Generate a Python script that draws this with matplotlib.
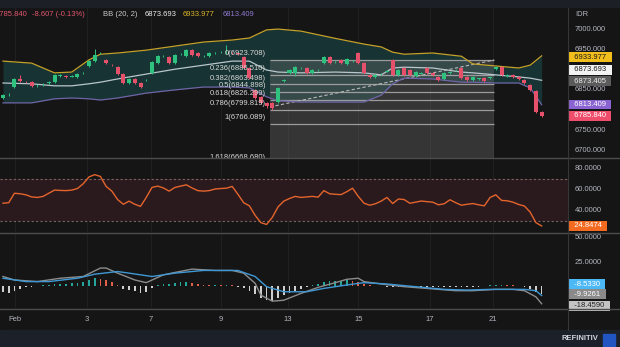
import matplotlib
matplotlib.use("Agg")
import matplotlib.pyplot as plt
import matplotlib.transforms as mtransforms
from matplotlib.patches import Rectangle
from matplotlib.lines import Line2D
import numpy as np

plt.rcParams["font.family"] = ["Liberation Sans", "DejaVu Sans"]

W, H = 620, 347

# price bars (IDR), one per bar
opens = [6830, 6837, 6857, 6877, 6870, 6869, 6861, 6862, 6866, 6869,
         6884, 6884, 6883, 6882, 6891, 6909, 6921, 6940, 6924, 6912,
         6906, 6889, 6867, 6877, 6867, 6874, 6892, 6916, 6933, 6931,
         6916, 6938, 6934, 6948, 6941, 6933, 6933, 6941, 6943, 6941,
         6941, 6940, 6931, 6904, 6850, 6833, 6818, 6818, 6820, 6872,
         6892, 6892, 6903, 6904, 6892, 6899, 6916, 6931, 6918, 6924,
         6914, 6921, 6941, 6916, 6887, 6882, 6889, 6895, 6924, 6887,
         6904, 6899, 6884, 6890, 6904, 6892, 6882, 6877, 6892, 6899,
         6904, 6882, 6874, 6877, 6879, 6880, 6901, 6906, 6884, 6887,
         6882, 6874, 6862, 6847, 6796]
highs = [6840, 6842, 6880, 6887, 6873, 6871, 6865, 6866, 6873, 6890,
         6889, 6886, 6887, 6892, 6895, 6924, 6951, 6944, 6927, 6914,
         6908, 6891, 6879, 6879, 6869, 6878, 6922, 6936, 6937, 6934,
         6939, 6941, 6951, 6950, 6943, 6936, 6944, 6944, 6946, 6961,
         6943, 6942, 6934, 6907, 6853, 6836, 6821, 6820, 6858, 6876,
         6902, 6909, 6906, 6906, 6901, 6902, 6934, 6934, 6921, 6926,
         6929, 6924, 6944, 6918, 6890, 6889, 6892, 6898, 6926, 6901,
         6906, 6901, 6896, 6893, 6906, 6894, 6884, 6894, 6896, 6902,
         6906, 6884, 6884, 6880, 6881, 6883, 6909, 6908, 6888, 6889,
         6884, 6876, 6864, 6849, 6798]
lows = [6828, 6834, 6855, 6869, 6867, 6857, 6858, 6860, 6864, 6867,
        6882, 6880, 6881, 6880, 6889, 6907, 6919, 6938, 6913, 6909,
        6886, 6864, 6865, 6865, 6854, 6872, 6890, 6914, 6931, 6913,
        6914, 6936, 6932, 6934, 6931, 6931, 6931, 6939, 6941, 6939,
        6938, 6935, 6901, 6877, 6827, 6815, 6806, 6800, 6818, 6870,
        6889, 6884, 6901, 6889, 6890, 6897, 6913, 6913, 6916, 6913,
        6911, 6919, 6913, 6889, 6879, 6880, 6887, 6893, 6884, 6884,
        6884, 6884, 6881, 6888, 6889, 6884, 6871, 6874, 6890, 6897,
        6876, 6871, 6872, 6875, 6869, 6878, 6899, 6884, 6881, 6880,
        6874, 6865, 6847, 6793, 6783]
closes = [6837, 6838, 6877, 6872, 6869, 6860, 6862, 6863, 6870, 6887,
          6887, 6882, 6884, 6889, 6892, 6921, 6936, 6941, 6916, 6911,
          6889, 6867, 6877, 6867, 6857, 6875, 6919, 6933, 6934, 6916,
          6936, 6939, 6948, 6936, 6933, 6934, 6941, 6942, 6944, 6942,
          6940, 6938, 6904, 6880, 6830, 6818, 6810, 6805, 6855, 6873,
          6899, 6906, 6904, 6892, 6899, 6900, 6931, 6916, 6919, 6916,
          6926, 6922, 6916, 6892, 6882, 6887, 6890, 6896, 6887, 6899,
          6887, 6887, 6894, 6891, 6892, 6887, 6874, 6892, 6893, 6900,
          6879, 6874, 6882, 6878, 6872, 6881, 6906, 6887, 6886, 6882,
          6877, 6868, 6850, 6794.447, 6785.840]

# Bollinger band (20, 2), read at a few bars
bb_idx = [0, 5, 9, 12, 15, 17, 20, 25, 30, 35, 40, 43, 46, 48, 52, 58, 63,
          66, 68, 70, 75, 80, 82, 86, 90, 92, 94]
bb_upper = [6921, 6916, 6892, 6894, 6924, 6938, 6941, 6948, 6958, 6968, 6973,
            6978, 6998, 7000, 6995, 6977, 6963, 6956, 6943, 6938, 6941, 6933,
            6914, 6909, 6904, 6911, 6933.977]
bb_mid = [6867, 6865, 6860, 6860, 6865, 6869, 6877, 6889, 6901, 6911, 6921,
          6921, 6899, 6894, 6892, 6894, 6892, 6887, 6904, 6906, 6904, 6894,
          6892, 6887, 6882, 6879, 6873.693]
bb_lower = [6818, 6818, 6828, 6830, 6828, 6825, 6830, 6842, 6850, 6857, 6857,
            6855, 6833, 6823, 6820, 6820, 6820, 6837, 6865, 6879, 6877, 6869,
            6869, 6867, 6867, 6855, 6813.409]

# Fibonacci retracement drawing
fib_levels = [0, 0.236, 0.382, 0.5, 0.618, 0.786, 1, 1.618]
fib_prices = [6923.708, 6886.510, 6863.498, 6844.898, 6826.299, 6799.819,
              6766.089, 6668.680]
fib_start, fib_end = 46.6, 85.7
fib_trend = [6808, 6923.708]

# RSI, one per bar
rsi = [46.5, 47, 56, 55.5, 54.5, 52.5, 52, 53, 56, 59,
       58.7, 58.5, 59, 60.5, 65, 71.5, 73.7, 72, 62.5, 58,
       50, 45.5, 48.5, 45.5, 43.5, 52, 61.5, 62.8, 61, 58,
       61.5, 62.8, 64, 61, 58.5, 58, 58.5, 60, 60.5, 60.8,
       62.5, 55, 47, 44, 35, 28, 26.3, 33, 43, 48.5,
       51, 53, 52, 52.5, 53, 52.3, 58.5, 55.5, 55, 54.7,
       57.5, 60.8, 53, 46.5, 44.6, 46, 48.5, 52, 46.2, 50.5,
       50, 46.5, 47.5, 48.6, 48, 47.5, 45, 46, 49.8, 47,
       44.6, 45.5, 46.2, 45, 44, 52, 54.5, 49.2, 48.8, 47.5,
       45.3, 43.8, 38, 28, 24.8474]

# MACD
macd_idx = [0, 2, 6, 10, 14, 17, 18, 20, 23, 25, 28, 30, 33, 37, 40, 42, 44,
            45, 47, 49, 52, 55, 58, 60, 62, 63, 66, 70, 74, 76, 79, 82, 86,
            89, 91, 93, 94]
macd_line = [9.9, 6.3, 4.6, 8.1, 9.9, 18.7, 18.7, 13.4, 6.3, 3.5, 11.6, 14.1,
             17.6, 16.2, 16.2, 13.4, 2.8, -9.5, -15.8, -14.8, -7.7, -1.4, 3.5,
             7, 8.1, 4.6, 2.1, -0.7, -2.5, -3.5, -4.9, -4.9, -3.5, -3.5, -4.9,
             -11.3, -18.459]
signal_idx = [0, 4, 8, 13, 16, 20, 22, 26, 30, 35, 41, 44, 46, 49, 53, 56, 60,
              63, 67, 72, 77, 81, 85, 91, 93, 94]
signal_line = [8.1, 4.6, 4.6, 8.1, 12.3, 15.1, 13.4, 9.9, 13.4, 16.2, 16.2,
               9.9, -0.7, -6, -6, -2.5, 1.1, 3.5, 2.1, -0.7, -3.5, -4.2, -3.5,
               -3.5, -4.9, -9.926]
hist = [-6, -7, -5, -3, -1, -1, -0.5, 1, 1, 2,
        2, 2, 3, 3, 4, 6, 8, 7, 6, 4,
        1, -3, -4, -5, -7, -6, -2, 1, 2, 2,
        3, 4, 4, 3, 2, 1.5, 1, 1, 0.8, 0.8,
        0.6, -1, -2, -5, -8, -12, -15, -16, -12, -9,
        -7, -5, -3, -1.5, 1, 2, 4, 5, 5, 5,
        6, 5, 4, 2, 1, 0.5,
        -0.5, -1, -1, -1.5, -1, -0.8, -1, -1.2, -1, -0.8,
        -1, -1.5, -1, -0.8, -1.2, -1, -0.8, -0.6, -0.5,
        0.8, 1, 1, 0.8, 0.6, 0.5, -1, -3, -6, -8.533]

tick_pos = [2.1, 14.7, 25.8, 38.0, 49.7, 62.0, 74.5, 85.5]
tick_labels = ["Feb", "3", "7", "9", "13", "15", "17", "21"]

BG = "#151515"
UP, DN = "#2fc27e", "#e5506a"
AXC = "#b2b5be"
FS = 5.5

fig = plt.figure(figsize=(W / 100, H / 100), dpi=100, facecolor=BG)


def px_axes(top, bottom):
    return fig.add_axes([0, 1 - bottom / H, 568 / W, (bottom - top) / H])


def ftxt(x, y, s, **kw):
    fig.text(x / W, 1 - y / H, s, fontsize=FS, va="center", **kw)


ax_p = px_axes(8, 158)
ax_r = px_axes(159, 232)
ax_m = px_axes(233, 308)

x = np.arange(len(closes))
for ax in (ax_p, ax_r, ax_m):
    ax.set_facecolor(BG)
    ax.set_xlim(-0.52, 98.6)
    for s in ax.spines.values():
        s.set_visible(False)
    ax.set_yticks([])
    ax.set_xticks([])
    for t in tick_pos:
        ax.axvline(t, color="#232323", lw=0.6, zorder=0)

# ---- price panel ----
ax_p.set_ylim(6682, 7052)
ax_p.fill_between(bb_idx, bb_upper, bb_lower, color="#183333", lw=0, zorder=1)
ax_p.add_patch(Rectangle((fib_start, 6600), fib_end - fib_start,
                         fib_prices[0] - 6600, facecolor="#808080",
                         alpha=0.3, lw=0, zorder=1.5))
ax_p.hlines(fib_prices, fib_start, fib_end, color="#9c9c9c", lw=0.9, zorder=2)
for lvl, p in zip(fib_levels, fib_prices):
    t = ax_p.annotate(f"{lvl:g}({p:.3f})", xy=(fib_start, p), xytext=(-3, 4.6),
                      textcoords="offset points", ha="right", va="center",
                      fontsize=FS, color="#d8d8d8", zorder=7,
                      annotation_clip=False)
    t.set_clip_path(ax_p.patch)
ax_p.plot([fib_start, fib_end], fib_trend, color="#b8b8b8", lw=0.8,
          ls=(0, (3, 2)), zorder=2.5)

ax_p.plot(bb_idx, bb_upper, color="#c4a12a", lw=0.9, zorder=3)
ax_p.plot(bb_idx, bb_mid, color="#b9c6cc", lw=0.9, zorder=3)
ax_p.plot(bb_idx, bb_lower, color="#6f64a6", lw=0.9, zorder=3)

o = np.array(opens)
c = np.array(closes)
cols = np.where(c >= o, UP, DN)
ax_p.vlines(x, lows, highs, colors=cols, lw=0.7, zorder=4)
ax_p.bar(x, np.maximum(np.abs(c - o), 1.2), bottom=np.minimum(o, c),
         width=0.7, color=cols, lw=0, zorder=5)

# ---- RSI panel ----
ax_r.set_ylim(19.1, 88.6)
ax_r.axhspan(30, 70, color="#2a1a1e", lw=0, zorder=0.5)
for lv in (30, 70):
    ax_r.axhline(lv, color="#7d6262", lw=0.8, ls=(0, (2, 2)), zorder=1)
ax_r.plot(x, rsi, color="#e4642c", lw=1.0, zorder=3)

# ---- MACD panel ----
ax_m.set_ylim(-22.9, 55.2)
hcols = []
for i, h in enumerate(hist):
    prev = hist[i - 1] if i else h
    if h < 0:
        hcols.append("#cfcfcf")
    elif h >= prev:
        hcols.append("#26a69a")
    else:
        hcols.append("#e0604a")
ax_m.bar(x, hist, width=0.3, color=hcols, lw=0, zorder=2)
ax_m.plot(macd_idx, macd_line, color="#8c8c8c", lw=1.0, zorder=3)
ax_m.plot(signal_idx, signal_line, color="#3f98d4", lw=1.0, zorder=3)
ax_m.set_xticks(tick_pos)
ax_m.set_xticklabels(tick_labels)
ax_m.tick_params(axis="x", length=0, pad=5.5, labelsize=FS, colors=AXC)

# ---- right scale labels ----
def scale_labels(ax, ticks, fmt):
    tr = mtransforms.blended_transform_factory(ax.transAxes, ax.transData)
    for v in ticks:
        ax.text(575 / 568, v, fmt.format(v), transform=tr, fontsize=FS,
                color=AXC, va="center", ha="left", zorder=8)


def value_box(ax, y, s, fc, tc):
    tr = mtransforms.blended_transform_factory(ax.transAxes, ax.transData)
    ax.text(570 / 568, y, "  " + s + "  ", transform=tr, fontsize=FS,
            color=tc, va="center", ha="left", zorder=10,
            bbox=dict(boxstyle="square,pad=0.15", fc=fc, ec="none"))


# 6800 and 6900 sit under the value boxes, so only the visible ones are drawn
scale_labels(ax_p, [6700, 6750, 6850, 6950, 7000], "{:.3f}")
value_box(ax_p, bb_upper[-1] - 3, "6933.977", "#f2be1c", "#1a1a1a")
value_box(ax_p, bb_mid[-1] + 25.5, "6873.693", "#f2f2f2", "#1a1a1a")
value_box(ax_p, 6873.405 - 1.5, "6873.405", "#5b5b5b", "#f0f0f0")
value_box(ax_p, bb_lower[-1], "6813.409", "#8a63d2", "#ffffff")
value_box(ax_p, closes[-1], "6785.840", "#ef4d6c", "#ffffff")

scale_labels(ax_r, [40, 60, 80], "{:.4f}")
value_box(ax_r, rsi[-1], "24.8474", "#f26b21", "#ffffff")

scale_labels(ax_m, [25, 50], "{:.4f}")
value_box(ax_m, hist[-1] + 10.5, "-8.5330", "#4cb8f5", "#ffffff")
value_box(ax_m, signal_line[-1] + 1.6, "-9.9261", "#8a8a8a", "#ffffff")
value_box(ax_m, macd_line[-1] - 2.3, "-18.4590", "#c4c4c4", "#222222")

# ---- frame: strips, separators, header ----
fig.patches.append(Rectangle((0, 1 - 7 / H), 1, 7 / H, transform=fig.transFigure,
                             color="#1c1f26", zorder=0))
fig.patches.append(Rectangle((0, 0), 1, 17 / H, transform=fig.transFigure,
                             color="#1c2029", zorder=0))
fig.patches.append(Rectangle((603 / W, 1 / H), 12 / W, 12 / H,
                             transform=fig.transFigure, color="#2156c2",
                             zorder=1))
for yy in (158, 232.5, 308.5):
    fig.lines.append(Line2D([0, 1], [1 - yy / H] * 2, transform=fig.transFigure,
                            color="#4d4d4d", lw=1.0))
fig.lines.append(Line2D([568 / W] * 2, [1 - 8 / H, 17 / H],
                        transform=fig.transFigure, color="#363636", lw=0.8))

ftxt(27, 15, "6785.840", color="#e0566d", ha="right")
ftxt(32, 15, "-8.607 (-0.13%)", color="#e0566d", ha="left")
ftxt(103, 15, "BB (20, 2)", color="#c8c8c8", ha="left")
ftxt(145, 15, "6873.693", color="#ececec", ha="left")
ftxt(183, 15, "6933.977", color="#d9b42a", ha="left")
ftxt(223, 15, "6813.409", color="#8f79d1", ha="left")
ftxt(575, 15, "IDR", color=AXC, ha="left")
ftxt(598, 339, "REFINITIV", color="#d0d4dc", ha="right", fontweight="bold")

fig.savefig("out.png", dpi=100, facecolor=BG)
